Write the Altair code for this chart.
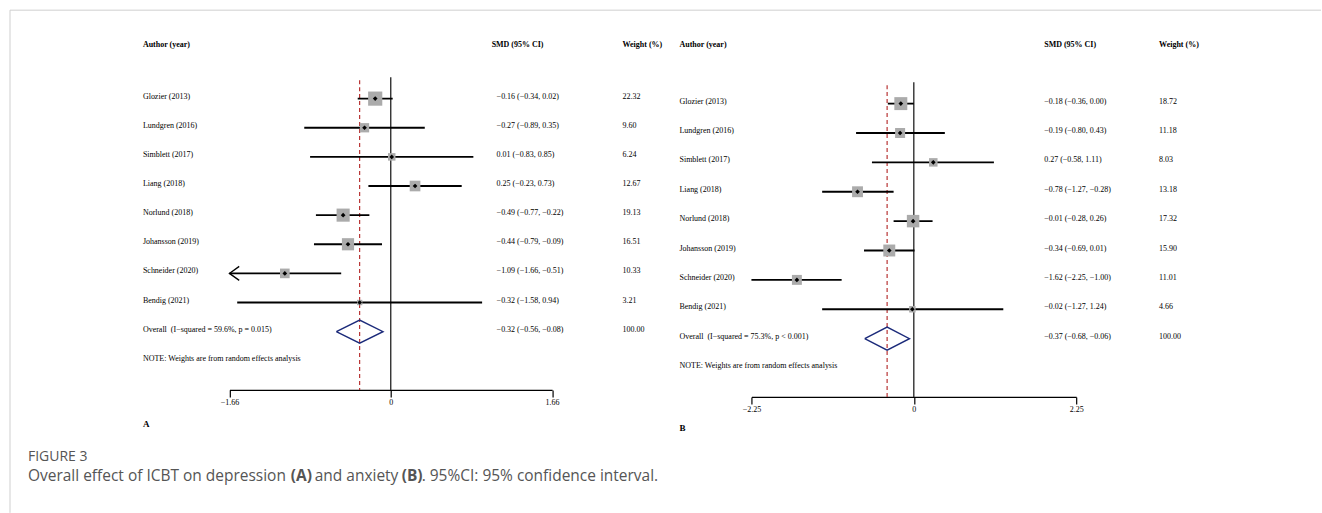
import altair as alt
import pandas as pd

# ---------------- data ----------------
studies = ["Glozier (2013)", "Lundgren (2016)", "Simblett (2017)", "Liang (2018)",
           "Norlund (2018)", "Johansson (2019)", "Schneider (2020)", "Bendig (2021)"]

a_smd = [-0.16, -0.27, 0.01, 0.25, -0.49, -0.44, -1.09, -0.32]
a_lo = [-0.34, -0.89, -0.83, -0.23, -0.77, -0.79, -1.66, -1.58]
a_hi = [0.02, 0.35, 0.85, 0.73, -0.22, -0.09, -0.51, 0.94]
a_w = [22.32, 9.60, 6.24, 12.67, 19.13, 16.51, 10.33, 3.21]
a_arrow = [False, False, False, False, False, False, True, False]
a_overall = [-0.32, -0.56, -0.08]
a_overall_label = "Overall\u00a0\u00a0(I\u2212squared = 59.6%, p = 0.015)"
a_ticks = [-1.66, 0, 1.66]

b_smd = [-0.18, -0.19, 0.27, -0.78, -0.01, -0.34, -1.62, -0.02]
b_lo = [-0.36, -0.80, -0.58, -1.27, -0.28, -0.69, -2.25, -1.27]
b_hi = [0.00, 0.43, 1.11, -0.28, 0.26, 0.01, -1.00, 1.24]
b_w = [18.72, 11.18, 8.03, 13.18, 17.32, 15.90, 11.01, 4.66]
b_arrow = [False] * 8
b_overall = [-0.37, -0.68, -0.06]
b_overall_label = "Overall\u00a0\u00a0(I\u2212squared = 75.3%, p < 0.001)"
b_ticks = [-2.25, 0, 2.25]

headers = ["Author (year)", "SMD (95% CI)", "Weight (%)"]
note_text = "NOTE: Weights are from random effects analysis"
fig_label = "FIGURE 3"
caption_parts = ["Overall effect of ICBT on depression", "(A)", "and anxiety", "(B)",
                 ". 95%CI: 95% confidence interval."]
caption_bold = [False, True, False, True, False]

SERIF = "Liberation Serif"
SANS = "Open Sans"


def fmt(v):
    s = f"{v:.2f}"
    return s.replace("-", "\u2212")


def ci_text(e, l, h):
    return f"{fmt(e)} ({fmt(l)}, {fmt(h)})"


def panel(smd, lo, hi, w, arrow, overall, overall_label, ticks, g, letter, extras=None):
    n = len(studies)
    df = pd.DataFrame({
        "r": list(range(n)), "study": studies, "smd": smd, "lo": lo, "hi": hi, "w": w,
        "arrow": arrow,
        "ci": [ci_text(e, l, h) for e, l, h in zip(smd, lo, hi)],
        "wt": [f"{x:.2f}" for x in w],
    })
    dmax = ticks[-1]
    xs = alt.Scale(domain=[-dmax, dmax], range=g["xr"], nice=False, zero=False)
    ys = alt.Scale(domain=[0, 9], range=[g["y0"], g["y0"] + 9 * g["step"]], nice=False, zero=False)
    axis = alt.Axis(values=ticks, title=None, grid=False,
                    labelExpr="datum.value == 0 ? '0' : replace(format(datum.value, '.2f'), '-', '\u2212')",
                    domainColor="black", domainWidth=1.2, tickColor="black", tickWidth=1.2,
                    tickSize=7, labelFont=SERIF, labelFontSize=8, labelColor="black",
                    labelPadding=2, labelFlush=False, labelOverlap=False)
    X = lambda f: alt.X(f, scale=xs, axis=axis)
    Y = lambda f: alt.Y(f, scale=ys, axis=None)

    zero = alt.Chart(pd.DataFrame({"x": [0]})).mark_rule(color="#222", strokeWidth=1.3).encode(
        x=X("x:Q"), y=alt.value(g["vtop"]), y2=alt.value(g["H"]))
    red = alt.Chart(pd.DataFrame({"x": [overall[0]]})).mark_rule(
        color="#b22222", strokeWidth=1.1, strokeDash=[4, 3]).encode(
        x=X("x:Q"), y=alt.value(g["rtop"]), y2=alt.value(g["H"]))
    base = alt.Chart(df)
    ci = base.mark_rule(color="black", strokeWidth=1.8).encode(x=X("lo:Q"), x2="hi:Q", y=Y("r:Q"))
    box = base.mark_square(color="#ababab", opacity=1).encode(
        x=X("smd:Q"), y=Y("r:Q"),
        size=alt.Size("w:Q", scale=alt.Scale(domain=[0, 25], range=[0, 225]), legend=None))
    pt = base.mark_point(shape="diamond", filled=True, color="black", size=22, opacity=1).encode(
        x=X("smd:Q"), y=Y("r:Q"))
    arr = base.transform_filter("datum.arrow").mark_point(
        shape="M 1.4 -1 L 0 0 L 1.4 1", filled=False, color="black", size=196,
        strokeWidth=1.3, opacity=1).encode(x=X("lo:Q"), y=Y("r:Q"))
    h = 11.5 / g["step"]
    dia = pd.DataFrame({"x": [overall[1], overall[0], overall[2], overall[0], overall[1]],
                        "r": [8, 8 - h, 8, 8 + h, 8], "o": [0, 1, 2, 3, 4]})
    diamond = alt.Chart(dia).mark_line(color="#1b2a7a", strokeWidth=1.4).encode(
        x=X("x:Q"), y=Y("r:Q"), order="o:Q")

    def txt(field, xpx, **kw):
        return base.mark_text(align="left", baseline="middle", font=SERIF, fontSize=8,
                              color="black", dy=-2, **kw).encode(
            x=alt.value(xpx), y=Y("r:Q"), text=field)

    labels = txt("study:N", g["lx"])
    cis = txt("ci:N", g["sx"])
    wts = txt("wt:N", g["wx"])

    orow = pd.DataFrame({"r": [8, 8, 8, 9],
                         "t": [overall_label, ci_text(*overall), "100.00", note_text],
                         "xp": [g["lx"], g["sx"], g["wx"], g["lx"]]})
    otexts = []
    for _, row in orow.iterrows():
        otexts.append(alt.Chart(pd.DataFrame([row])).mark_text(
            align="left", baseline="middle", font=SERIF, fontSize=8, color="black", dy=-2).encode(
            x=alt.value(row["xp"]), y=Y("r:Q"), text="t:N"))

    hdr = []
    for t, xp in zip(headers, [g["lx"], g["shx"], g["wx"]]):
        hdr.append(alt.Chart(pd.DataFrame({"t": [t]})).mark_text(
            align="left", baseline="middle", font=SERIF, fontSize=8, fontWeight="bold",
            color="black").encode(x=alt.value(xp), y=alt.value(45), text="t:N"))
    let = alt.Chart(pd.DataFrame({"t": [letter]})).mark_text(
        align="left", baseline="middle", font=SERIF, fontSize=9, fontWeight="bold",
        color="black").encode(x=alt.value(g["lx"]), y=alt.value(g["ly"]), text="t:N")

    layers = [zero, red, ci, box, pt, arr, diamond, labels, cis, wts] + otexts + hdr + [let]
    if extras:
        layers += extras
    return alt.layer(*layers).properties(width=661, height=g["H"])


# frame and caption (decoration, drawn in panel A's coordinate space)
one = pd.DataFrame({"k": [0]})
frame_top = alt.Chart(one).mark_rule(color="#cfcfcf", strokeWidth=1).encode(
    x=alt.value(10), x2=alt.value(1322), y=alt.value(10))
frame_left = alt.Chart(one).mark_rule(color="#cfcfcf", strokeWidth=1).encode(
    x=alt.value(10), y=alt.value(10), y2=alt.value(513))
figlab = alt.Chart(pd.DataFrame({"t": [fig_label]})).mark_text(
    align="left", baseline="middle", font=SANS, fontSize=14, color="#555").encode(
    x=alt.value(28), y=alt.value(457), text="t:N")
cap_x = [28, 291, 315, 402, 422]
caps = []
for t, b, xp in zip(caption_parts, caption_bold, cap_x):
    caps.append(alt.Chart(pd.DataFrame({"t": [t]})).mark_text(
        align="left", baseline="middle", font=SANS, fontSize=15.5,
        fontWeight="bold" if b else "normal", color="#555").encode(
        x=alt.value(xp), y=alt.value(476), text="t:N"))

gA = dict(xr=[229.6, 552.5], y0=98.5, step=29.15, lx=143, sx=497, shx=492, wx=623,
          vtop=77, rtop=80, H=390, ly=424)
gB = dict(xr=[91, 416], y0=103.5, step=29.4, lx=19, sx=384, shx=384, wx=499,
          vtop=82, rtop=85, H=397, ly=428)

pA = panel(a_smd, a_lo, a_hi, a_w, a_arrow, a_overall, a_overall_label, a_ticks, gA, "A",
           extras=[frame_top, frame_left, figlab] + caps)
pB = panel(b_smd, b_lo, b_hi, b_w, b_arrow, b_overall, b_overall_label, b_ticks, gB, "B")

chart = alt.hconcat(pA, pB, spacing=0, bounds="flush").properties(
    padding=0, background="white").configure_view(stroke=None)

chart.save("out.html", embed_options={"renderer": "svg", "actions": False})
